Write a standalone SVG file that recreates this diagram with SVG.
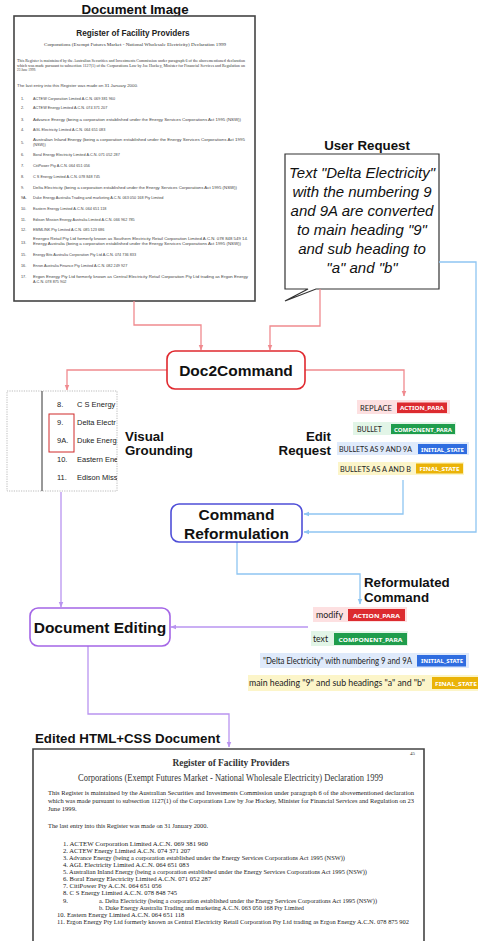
<svg xmlns="http://www.w3.org/2000/svg" width="478" height="941" viewBox="0 0 478 941">
<style>
.lbl{font-family:"Liberation Sans",Arial,sans-serif;font-weight:bold;font-size:13.3px;fill:#111}
.node{fill:#fff;stroke-width:1.6}
.ntxt{font-family:"Liberation Sans",Arial,sans-serif;font-weight:bold;font-size:15.5px;fill:#111;text-anchor:middle}
.ds{font-family:"Liberation Sans",Arial,sans-serif;font-size:3.8px;fill:#444}
.dser{font-family:"Liberation Serif","Times New Roman",serif;fill:#333}
.es{font-family:"Liberation Serif","Times New Roman",serif;font-size:6.6px;fill:#222}
.vg{font-family:"Liberation Sans",Arial,sans-serif;font-size:7.5px;fill:#222}
.tt{font-family:Lato,"Noto Sans",sans-serif;font-size:8px;fill:#222}
.tt2{font-family:Lato,"Noto Sans",sans-serif;font-size:9.5px;fill:#222}
.bt{font-family:"Noto Sans","Open Sans",sans-serif;font-weight:bold;font-size:6px;fill:#fff;text-anchor:middle}
.bs{font-family:"Noto Sans","Open Sans",sans-serif;font-weight:bold;font-size:6px;fill:#fff}
.cr{fill:none;stroke:#f08a8f;stroke-width:1.3}
.cb{fill:none;stroke:#8ec5f2;stroke-width:1.3}
.cp{fill:none;stroke:#b994f0;stroke-width:1.3}
</style>
<defs>
<marker id="ar" viewBox="0 0 10 10" refX="9" refY="5" markerWidth="6" markerHeight="6" orient="auto" markerUnits="userSpaceOnUse"><path d="M0,1 L10,5 L0,9 z" fill="#f08a8f"/></marker>
<marker id="ab" viewBox="0 0 10 10" refX="9" refY="5" markerWidth="6" markerHeight="6" orient="auto" markerUnits="userSpaceOnUse"><path d="M0,1 L10,5 L0,9 z" fill="#8ec5f2"/></marker>
<marker id="ap" viewBox="0 0 10 10" refX="9" refY="5" markerWidth="6" markerHeight="6" orient="auto" markerUnits="userSpaceOnUse"><path d="M0,1 L10,5 L0,9 z" fill="#b994f0"/></marker>
<clipPath id="vgclip"><rect x="7" y="391" width="110" height="100"/></clipPath>
</defs>

<!-- Document Image -->
<g id="document-image">
<text class="lbl" x="135" y="14" text-anchor="middle">Document Image</text>
<rect x="14" y="16" width="241" height="285" fill="#fff" stroke="#444" stroke-width="1.6"/>
<text x="133" y="36" text-anchor="middle" font-family="Liberation Sans,Arial,sans-serif" font-weight="bold" font-size="8.2" fill="#222">Register of Facility Providers</text>
<text class="dser" x="135" y="46" text-anchor="middle" font-size="4.8" textLength="182" lengthAdjust="spacingAndGlyphs">Corporations (Exempt Futures Market - National Wholesale Electricity) Declaration 1999</text>
<text class="dser" x="17" y="62" font-size="3.4" textLength="228" lengthAdjust="spacingAndGlyphs">This Register is maintained by the Australian Securities and Investments Commission under paragraph 6 of the abovementioned declaration</text>
<text class="dser" x="17" y="66.5" font-size="3.4" textLength="228" lengthAdjust="spacingAndGlyphs">which was made pursuant to subsection 1127(1) of the Corporations Law by Joe Hockey, Minister for Financial Services and Regulation on</text>
<text class="dser" x="17" y="71" font-size="3.4">23 June 1999.</text>
<text class="ds" x="17" y="87" textLength="121" lengthAdjust="spacingAndGlyphs">The last entry into this Register was made on 31 January 2000.</text>
<g class="ds">
<text x="21" y="100">1.</text><text x="33" y="100">ACTEW Corporation Limited A.C.N. 069 381 960</text>
<text x="21" y="109">2.</text><text x="33" y="109">ACTEW Energy Limited A.C.N. 074 371 207</text>
<text x="21" y="121">3.</text><text x="33" y="121" textLength="208" lengthAdjust="spacingAndGlyphs">Advance Energy (being a corporation established under the Energy Services Corporations Act 1995 (NSW))</text>
<text x="21" y="131">4.</text><text x="33" y="131">AGL Electricity Limited A.C.N. 064 651 083</text>
<text x="21" y="144">5.</text><text x="33" y="141" textLength="212" lengthAdjust="spacingAndGlyphs">Australian Inland Energy (being a corporation established under the Energy Services Corporations Act 1995</text><text x="33" y="146">(NSW))</text>
<text x="21" y="156">6.</text><text x="33" y="156">Boral Energy Electricity Limited A.C.N. 071 052 287</text>
<text x="21" y="167">7.</text><text x="33" y="167">CitiPower Pty A.C.N. 064 651 056</text>
<text x="21" y="178">8.</text><text x="33" y="178">C S Energy Limited A.C.N. 078 848 745</text>
<text x="21" y="189">9.</text><text x="33" y="189" textLength="204" lengthAdjust="spacingAndGlyphs">Delta Electricity (being a corporation established under the Energy Services Corporations Act 1995 (NSW))</text>
<text x="21" y="199">9A.</text><text x="33" y="199">Duke Energy Australia Trading and marketing A.C.N. 063 050 168 Pty Limited</text>
<text x="21" y="210">10.</text><text x="33" y="210">Eastern Energy Limited A.C.N. 064 651 118</text>
<text x="21" y="221">11.</text><text x="33" y="221">Edison Mission Energy Australia Limited A.C.N. 066 962 785</text>
<text x="21" y="231">12.</text><text x="33" y="231">EMMLINK Pty Limited A.C.N. 085 123 686</text>
<text x="21" y="244">13.</text><text x="33" y="240" textLength="215" lengthAdjust="spacingAndGlyphs">Energex Retail Pty Ltd formerly known as Southern Electricity Retail Corporation Limited A.C.N. 078 848 549 14.</text><text x="33" y="245" textLength="208" lengthAdjust="spacingAndGlyphs">Energy Australia (being a corporation established under the Energy Services Corporations Act 1995 (NSW))</text>
<text x="21" y="256">15.</text><text x="33" y="256">Energy Bits Australia Corporation Pty Ltd A.C.N. 074 736 833</text>
<text x="21" y="267">16.</text><text x="33" y="267">Enron Australia Finance Pty Limited A.C.N. 082 249 927</text>
<text x="21" y="278">17.</text><text x="33" y="278" textLength="215" lengthAdjust="spacingAndGlyphs">Ergon Energy Pty Ltd formerly known as Central Electricity Retail Corporation Pty Ltd trading as Ergon Energy</text><text x="33" y="283">A.C.N. 078 875 902</text>
</g>
</g>

<!-- User Request -->
<g id="user-request">
<text class="lbl" x="367" y="150" text-anchor="middle">User Request</text>
<path d="M285,154 H439 V289 H316 L285,301 L308,289 H285 Z" fill="#fff" stroke="#333" stroke-width="1.2"/>
<g font-family="Liberation Sans,Arial,sans-serif" font-style="italic" font-size="15" fill="#111" text-anchor="middle">
<text x="362" y="178">Text "Delta Electricity"</text>
<text x="362" y="197">with the numbering 9</text>
<text x="362" y="216">and 9A are converted</text>
<text x="362" y="235">to main heading "9"</text>
<text x="362" y="254">and sub heading to</text>
<text x="362" y="273">"a" and "b"</text>
</g>
</g>

<!-- Connectors -->
<g id="connectors">
<path class="cr" d="M134,301 V325 H201 V350" marker-end="url(#ar)"/>
<path class="cr" d="M320,289 V326 H270 V350" marker-end="url(#ar)"/>
<path class="cr" d="M167,370 H67 V390" marker-end="url(#ar)"/>
<path class="cr" d="M305,370 H404 V396" marker-end="url(#ar)"/>
<path class="cb" d="M439,262 H476 V532 H304" marker-end="url(#ab)"/>
<path class="cb" d="M403,480 V514 H304" marker-end="url(#ab)"/>
<path class="cb" d="M237,542 V574 H360 V604" marker-end="url(#ab)"/>
<path class="cp" d="M61,492 V607" marker-end="url(#ap)"/>
<path class="cp" d="M308,627 H171" marker-end="url(#ap)"/>
<path class="cp" d="M88,646 V714 H229 V747" marker-end="url(#ap)"/>
</g>

<!-- Doc2Command -->
<g id="doc2command">
<rect class="node" x="167" y="351" width="138" height="38" rx="8" stroke="#e0282e"/>
<text class="ntxt" x="236" y="376">Doc2Command</text>
</g>

<!-- Visual Grounding -->
<g id="visual-grounding">
<rect x="7" y="391" width="110" height="100" fill="#fff" stroke="#aaa" stroke-width="0.8" stroke-dasharray="1.2,1.2"/>
<line x1="42" y1="391" x2="42" y2="491" stroke="#333" stroke-width="1"/>
<g class="vg" clip-path="url(#vgclip)">
<text x="57" y="407">8.</text><text x="77" y="407">C S Energy</text>
<text x="57" y="425">9.</text><text x="77" y="425">Delta Electr</text>
<text x="57" y="443">9A.</text><text x="77" y="443">Duke Energ</text>
<text x="57" y="462">10.</text><text x="77" y="462">Eastern Ene</text>
<text x="57" y="480">11.</text><text x="77" y="480">Edison Miss</text>
</g>
<rect x="49" y="414" width="25" height="38" fill="none" stroke="#d02a2a" stroke-width="1"/>
<text class="lbl" x="125" y="441">Visual</text>
<text class="lbl" x="125" y="455">Grounding</text>
</g>

<!-- Edit Request -->
<g id="edit-request">
<text class="lbl" x="331" y="441" text-anchor="end">Edit</text>
<text class="lbl" x="331" y="455" text-anchor="end">Request</text>
<rect x="357" y="400" width="93" height="14" fill="#fde0e1"/>
<text class="tt" x="360" y="410.5" textLength="32" lengthAdjust="spacingAndGlyphs">REPLACE</text>
<rect x="397" y="402.5" width="50" height="10.5" fill="#dc2b2f"/>
<text class="bt" x="422" y="410" textLength="44" lengthAdjust="spacingAndGlyphs">ACTION_PARA</text>
<rect x="353" y="422" width="103" height="13" fill="#e2f5e7"/>
<text class="tt" x="357" y="432" textLength="25" lengthAdjust="spacingAndGlyphs">BULLET</text>
<rect x="391" y="424" width="64" height="10" fill="#1f9d4c"/>
<text class="bt" x="423" y="431.5" textLength="58" lengthAdjust="spacingAndGlyphs">COMPONENT_PARA</text>
<rect x="337" y="442" width="132" height="13" fill="#dfeafb"/>
<text class="tt" x="339" y="452" font-size="7.2" textLength="73" lengthAdjust="spacingAndGlyphs">BULLETS AS 9 AND 9A</text>
<rect x="418" y="444" width="49" height="10" fill="#2f6de0"/>
<text class="bs" x="421" y="451.5" textLength="43" lengthAdjust="spacingAndGlyphs">INITIAL_STATE</text>
<rect x="338" y="462" width="126" height="13" fill="#fcf5c9"/>
<text class="tt" x="340" y="472" font-size="7.2" textLength="71" lengthAdjust="spacingAndGlyphs">BULLETS AS A AND B</text>
<rect x="416" y="463.5" width="47" height="10" fill="#eab308"/>
<text class="bs" x="419.5" y="471" textLength="40" lengthAdjust="spacingAndGlyphs">FINAL_STATE</text>
</g>

<!-- Command Reformulation -->
<g id="command-reformulation">
<rect class="node" x="171" y="504" width="131" height="38" rx="8" stroke="#4f4fd8"/>
<text class="ntxt" x="236.5" y="520">Command</text>
<text class="ntxt" x="236.5" y="539">Reformulation</text>
</g>

<!-- Reformulated Command -->
<g id="reformulated-command">
<text class="lbl" x="364" y="587">Reformulated</text>
<text class="lbl" x="364" y="602">Command</text>
<rect x="313" y="607" width="94" height="15" fill="#fde0e1"/>
<text class="tt2" x="316" y="618" textLength="27" lengthAdjust="spacingAndGlyphs">modify</text>
<rect x="348" y="609" width="57" height="12" fill="#dc2b2f"/>
<text class="bt" x="376.5" y="617.5" font-size="6.6" textLength="47" lengthAdjust="spacingAndGlyphs">ACTION_PARA</text>
<rect x="311" y="631" width="97" height="15" fill="#e2f5e7"/>
<text class="tt2" x="313" y="642" textLength="15" lengthAdjust="spacingAndGlyphs">text</text>
<rect x="334" y="633" width="73" height="12" fill="#1f9d4c"/>
<text class="bt" x="370.5" y="641.5" font-size="6.6" textLength="64" lengthAdjust="spacingAndGlyphs">COMPONENT_PARA</text>
<rect x="260" y="653" width="209" height="15" fill="#dfeafb"/>
<text class="tt2" x="263" y="664" font-size="6.5" textLength="149" lengthAdjust="spacingAndGlyphs">"Delta Electricity" with numbering 9 and 9A</text>
<rect x="417" y="655" width="49" height="11.5" fill="#2f6de0"/>
<text class="bs" x="421" y="663.2" font-size="6.2" textLength="42" lengthAdjust="spacingAndGlyphs">INITIAL_STATE</text>
<rect x="248" y="675" width="232" height="16" fill="#fcf5c9"/>
<text class="tt2" x="249" y="686" font-size="7.3" textLength="176" lengthAdjust="spacingAndGlyphs">main heading "9" and sub headings "a" and "b"</text>
<rect x="432" y="677" width="48" height="12" fill="#eab308"/>
<text class="bs" x="435" y="685.5" font-size="6.2" textLength="42" lengthAdjust="spacingAndGlyphs">FINAL_STATE</text>
</g>

<!-- Document Editing -->
<g id="document-editing">
<rect class="node" x="30" y="608" width="140" height="38" rx="8" stroke="#a466e6"/>
<text class="ntxt" x="100" y="633">Document Editing</text>
</g>

<!-- Edited HTML+CSS Document -->
<g id="edited-document">
<text class="lbl" x="35" y="743">Edited HTML+CSS Document</text>
<path d="M33,945 V749 H424 V945" fill="#fff" stroke="#444" stroke-width="1.6"/>
<text class="dser" x="410" y="755" font-size="5">45</text>
<text class="dser" x="231" y="766" text-anchor="middle" font-weight="bold" font-size="9.4" fill="#111">Register of Facility Providers</text>
<text class="dser" x="78" y="781" font-size="9.5" textLength="305" lengthAdjust="spacingAndGlyphs" fill="#222">Corporations (Exempt Futures Market - National Wholesale Electricity) Declaration 1999</text>
<text class="es" x="48" y="795" textLength="366" lengthAdjust="spacingAndGlyphs">This Register is maintained by the Australian Securities and Investments Commission under paragraph 6 of the abovementioned declaration</text>
<text class="es" x="48" y="803" textLength="366" lengthAdjust="spacingAndGlyphs">which was made pursuant to subsection 1127(1) of the Corporations Law by Joe Hockey, Minister for Financial Services and Regulation on 23</text>
<text class="es" x="48" y="810.5">June 1999.</text>
<text class="es" x="48" y="828" textLength="160" lengthAdjust="spacingAndGlyphs">The last entry into this Register was made on 31 January 2000.</text>
<text class="es" x="63" y="846" textLength="145" lengthAdjust="spacingAndGlyphs">1. ACTEW Corporation Limited A.C.N. 069 381 960</text>
<text class="es" x="63" y="853">2. ACTEW Energy Limited A.C.N. 074 371 207</text>
<text class="es" x="63" y="860" textLength="282" lengthAdjust="spacingAndGlyphs">3. Advance Energy (being a corporation established under the Energy Services Corporations Act 1995 (NSW))</text>
<text class="es" x="63" y="867">4. AGL Electricity Limited A.C.N. 064 651 083</text>
<text class="es" x="63" y="874" textLength="304" lengthAdjust="spacingAndGlyphs">5. Australian Inland Energy (being a corporation established under the Energy Services Corporations Act 1995 (NSW))</text>
<text class="es" x="63" y="881">6. Boral Energy Electricity Limited A.C.N. 071 052 287</text>
<text class="es" x="63" y="888">7. CitiPower Pty A.C.N. 064 651 056</text>
<text class="es" x="63" y="895">8. C S Energy Limited A.C.N. 078 848 745</text>
<text class="es" x="63" y="903">9.</text>
<text class="es" x="99" y="903" textLength="278" lengthAdjust="spacingAndGlyphs">a. Delta Electricity (being a corporation established under the Energy Services Corporations Act 1995 (NSW))</text>
<text class="es" x="99" y="910" textLength="205" lengthAdjust="spacingAndGlyphs">b. Duke Energy Australia Trading and marketing A.C.N. 063 050 168 Pty Limited</text>
<text class="es" x="57" y="917">10. Eastern Energy Limited A.C.N. 064 651 118</text>
<text class="es" x="57" y="924" textLength="352" lengthAdjust="spacingAndGlyphs">11. Ergon Energy Pty Ltd formerly known as Central Electricity Retail Corporation Pty Ltd trading as Ergon Energy A.C.N. 078 875 902</text>
</g>
</svg>
